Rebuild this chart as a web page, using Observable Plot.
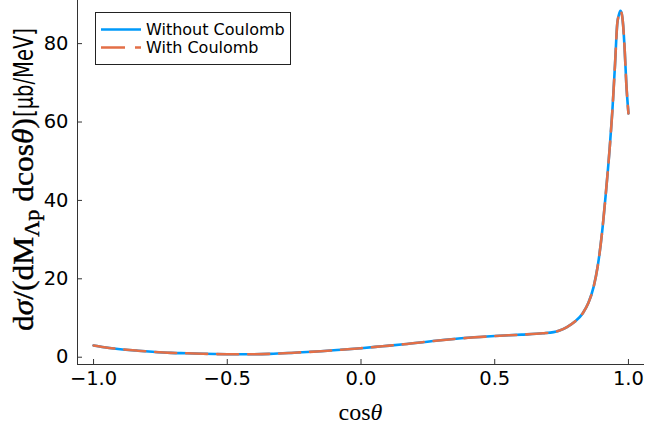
<!DOCTYPE html>
<html><head><meta charset="utf-8">
<script src="https://cdn.jsdelivr.net/npm/d3@7"></script>
<script src="https://cdn.jsdelivr.net/npm/@observablehq/plot@0.6"></script>
<style>body{margin:0;background:#fff} #chart{position:relative;width:645px;height:424px}</style>
</head><body><div id="chart"></div>
<script>
const cosTheta = [-1.0, -0.96, -0.9, -0.84, -0.78, -0.71, -0.65, -0.59, -0.5, -0.43, -0.34, -0.25, -0.15, -0.075, 0.0, 0.08, 0.16, 0.28, 0.4, 0.5, 0.6, 0.68, 0.72, 0.74, 0.77, 0.8, 0.83, 0.85, 0.87, 0.885, 0.9, 0.915, 0.93, 0.94, 0.95, 0.958, 0.964, 0.97, 0.975, 0.98, 0.986, 0.992, 1.0];
const withoutCoulomb = [3.0, 2.55, 2.05, 1.7, 1.38, 1.1, 1.0, 0.87, 0.77, 0.75, 0.85, 1.15, 1.53, 1.9, 2.3, 2.8, 3.3, 4.2, 4.95, 5.4, 5.75, 6.1, 6.4, 6.75, 7.7, 9.1, 11.3, 13.8, 18.0, 23.2, 31.0, 41.5, 53.5, 63.0, 75.0, 85.0, 87.3, 88.4, 87.6, 84.8, 78.3, 69.8, 62.2];
const withCoulomb = [3.0, 2.55, 2.05, 1.7, 1.38, 1.1, 1.0, 0.87, 0.77, 0.75, 0.85, 1.15, 1.53, 1.9, 2.3, 2.8, 3.3, 4.2, 4.95, 5.4, 5.75, 6.1, 6.4, 6.75, 7.7, 9.1, 11.3, 13.8, 18.0, 23.2, 31.0, 41.5, 53.5, 63.0, 75.0, 85.0, 87.3, 88.4, 87.6, 84.8, 78.3, 69.8, 62.2];
const seriesNames = ["Without Coulomb", "With Coulomb"];
const xTicks = [-1, -0.5, 0, 0.5, 1];
const yTicks = [0, 20, 40, 60, 80];
const xDomain = [-1.06, 1.06];
const yDomain = [-1.86, 91.0];

const blue = "#009AFA", orange = "#E36F47", axisColor = "#333";
const W = 645, H = 424, mL = 77, mR = 1, mT = 0, mB = 60;
const dash = "21,10";

const rowsA = cosTheta.map((c, i) => ({c, v: withoutCoulomb[i]}));
const rowsB = cosTheta.map((c, i) => ({c, v: withCoulomb[i]}));

const plot = Plot.plot({
  width: W, height: H, marginLeft: mL, marginRight: mR, marginTop: mT, marginBottom: mB,
  style: {fontFamily: "DejaVu Sans", fontSize: "19.5px", color: "#000", background: "#fff", overflow: "visible"},
  x: {domain: xDomain},
  y: {domain: yDomain},
  marks: [
    Plot.axisX(xTicks, {tickSize: 0, tickPadding: 7, tickFormat: d3.format(".1f"), label: null, fill: "#000"}),
    Plot.axisY(yTicks, {tickSize: 0, tickPadding: 9, tickFormat: d => String(d), label: null, fill: "#000"}),
    Plot.tickX(xTicks, {x: d => d, insetTop: H - mT - mB - 5, stroke: axisColor}),
    Plot.tickY(yTicks, {y: d => d, insetRight: W - mL - mR - 5, stroke: axisColor}),
    Plot.ruleX([xDomain[0]], {stroke: axisColor}),
    Plot.ruleY([yDomain[0]], {stroke: axisColor}),
    Plot.line(rowsA, {x: "c", y: "v", stroke: blue, strokeWidth: 2.6, curve: "monotone-x"}),
    Plot.line(rowsB, {x: "c", y: "v", stroke: orange, strokeWidth: 2.6, strokeDasharray: dash, curve: "monotone-x"})
  ]
});
document.getElementById("chart").appendChild(plot);

const svg = d3.select(plot);
const serif = "Liberation Serif";
// x label
const xl = svg.append("text").attr("x", (mL + W - mR) / 2).attr("y", 420)
  .attr("text-anchor", "middle").attr("font-family", serif).attr("font-size", 24).attr("fill", "#000");
xl.append("tspan").text("cos");
xl.append("tspan").attr("font-style", "italic").text("θ");

// y label (math part + unit part)
const ym = svg.append("text").attr("text-anchor", "start").attr("font-size", 30)
  .attr("font-family", serif).attr("fill", "#000").attr("stroke", "#000").attr("stroke-width", 0.4)
  .attr("transform", "translate(33,331) rotate(-90)")
  .attr("textLength", 213).attr("lengthAdjust", "spacingAndGlyphs");
ym.append("tspan").text("d");
ym.append("tspan").attr("font-style", "italic").text("σ");
ym.append("tspan").text("/(dM");
ym.append("tspan").attr("font-size", 21).attr("dy", 6).text("Λp");
ym.append("tspan").attr("dy", -6).text(" dcos");
ym.append("tspan").attr("font-style", "italic").text("θ");
ym.append("tspan").text(")");

svg.append("text").attr("text-anchor", "start").attr("font-size", 26)
  .attr("font-family", "DejaVu Sans").attr("fill", "#000")
  .attr("transform", "translate(33,117) rotate(-90)")
  .attr("textLength", 89).attr("lengthAdjust", "spacingAndGlyphs")
  .text("[μb/MeV]");

// legend
const lg = svg.append("g").attr("font-family", "DejaVu Sans").attr("font-size", 16).attr("text-anchor", "start");
lg.append("rect").attr("x", 95.5).attr("y", 12.5).attr("width", 195).attr("height", 52)
  .attr("fill", "#fff").attr("stroke", "#222").attr("stroke-width", 1);
const rows = [{name: seriesNames[0], color: blue, dash: null, y: 29.5},
              {name: seriesNames[1], color: orange, dash: "24,10", y: 47.5}];
rows.forEach(r => {
  lg.append("line").attr("x1", 101).attr("x2", 141).attr("y1", r.y).attr("y2", r.y)
    .attr("stroke", r.color).attr("stroke-width", 2.6).attr("stroke-dasharray", r.dash);
  lg.append("text").attr("x", 146).attr("y", r.y + 5.5).attr("fill", "#000").attr("text-anchor", "start").text(r.name);
});
</script>
</body></html>
